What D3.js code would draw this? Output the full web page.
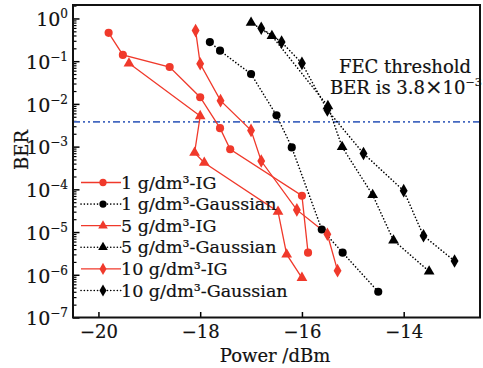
<!DOCTYPE html>
<meta charset="utf-8">
<head>
  <title>BER vs Power</title>
  <script src="https://d3js.org/d3.v7.min.js"></script>
  <style>
    body { margin: 0; background: #fff; }
    text { font-family: "DejaVu Serif", serif; fill: #111; stroke: #111; stroke-width: 0.2px; }
  </style>
</head>
<body>
<div id="my_dataviz"></div>
<script>
// data: power (dBm) and BER per curve
var ig1X = [-19.80, -19.52, -18.60, -18.00, -17.61, -17.41, -16.00, -15.88];
var ig1Y = [0.46, 0.14, 0.073, 0.0143, 0.0027, 8.7e-4, 7.1e-5, 3.3e-6];
var gs1X = [-17.81, -17.61, -17.00, -16.50, -16.20, -15.61, -15.20, -14.50];
var gs1Y = [0.28, 0.176, 0.05, 0.0054, 9.6e-4, 1.15e-5, 3.3e-6, 4.0e-7];
var ig5X = [-19.40, -18.00, -18.11, -17.92, -16.47, -16.30, -16.00];
var ig5Y = [0.089, 0.0052, 7.2e-4, 4.2e-4, 3.0e-5, 3.0e-6, 8.5e-7];
var gs5X = [-17.00, -16.59, -15.49, -15.21, -14.61, -14.20, -13.50];
var gs5Y = [0.8, 0.39, 0.0089, 9.8e-4, 7.4e-5, 6.4e-6, 1.2e-6];
var ig10X = [-18.09, -18.00, -17.60, -17.00, -16.80, -16.10, -15.50, -15.30];
var ig10Y = [0.52, 0.087, 0.0119, 0.0024, 4.6e-4, 3.3e-5, 8.9e-6, 1.25e-6];
var gs10X = [-16.80, -16.40, -16.00, -15.50, -14.79, -14.00, -13.61, -13.00];
var gs10Y = [0.59, 0.28, 0.089, 0.0072, 6.9e-4, 9.3e-5, 8.2e-6, 2.1e-6];

var seriesNames = ["1 g/dm³-IG", "1 g/dm³-Gaussian", "5 g/dm³-IG", "5 g/dm³-Gaussian", "10 g/dm³-IG", "10 g/dm³-Gaussian"];
var xTicks = [-20, -18, -16, -14];
var yExps = [0, -1, -2, -3, -4, -5, -6, -7];
var fecBER = 3.8e-3;

var red = "#f0392b";
var series = [
  {name: seriesNames[0], xs: ig1X, ys: ig1Y, color: red, dotted: false, sym: d3.symbolCircle, size: 52},
  {name: seriesNames[1], xs: gs1X, ys: gs1Y, color: "#000", dotted: true, sym: d3.symbolCircle, size: 52},
  {name: seriesNames[2], xs: ig5X, ys: ig5Y, color: red, dotted: false, sym: d3.symbolTriangle, size: 50},
  {name: seriesNames[3], xs: gs5X, ys: gs5Y, color: "#000", dotted: true, sym: d3.symbolTriangle, size: 50},
  {name: seriesNames[4], xs: ig10X, ys: ig10Y, color: red, dotted: false, sym: d3.symbolDiamond, size: 54},
  {name: seriesNames[5], xs: gs10X, ys: gs10Y, color: "#000", dotted: true, sym: d3.symbolDiamond, size: 54}
];

var W = 483, H = 368;
var L = 73, R = 480, T = 5, B = 317.5;

var svg = d3.select("#my_dataviz").append("svg")
  .attr("width", W).attr("height", H);

var x = d3.scaleLinear().domain([-20.5, -12.5]).range([L, R]);
var y = d3.scaleLog().domain([1e-7, Math.pow(10, 0.315)]).range([B, T]);

// minor log ticks on y
var minor = [];
for (var e = -7; e < 1; e++) {
  for (var k = 2; k <= 9; k++) minor.push(k * Math.pow(10, e));
}
minor = minor.filter(function(v) { return v <= y.domain()[1]; });
svg.append("g")
  .attr("transform", "translate(" + L + ",0)")
  .call(d3.axisLeft(y).tickValues(minor).tickSize(-3.5).tickFormat(""))
  .call(function(g) { g.select(".domain").remove(); g.selectAll("line").attr("stroke-width", 1.2); });

// major y ticks with superscript labels
var yAxis = svg.append("g")
  .attr("transform", "translate(" + L + ",0)")
  .call(d3.axisLeft(y).tickValues(yExps.map(function(e) { return Math.pow(10, e); }))
    .tickSize(-6.5).tickPadding(5).tickFormat(""));
yAxis.select(".domain").remove();
yAxis.selectAll("line").attr("stroke-width", 1.5);
yAxis.selectAll(".tick text")
  .attr("x", -5)
  .attr("dy", "0.38em")
  .attr("font-size", 19)
  .attr("font-family", "DejaVu Serif")
  .each(function(d) {
    var t = d3.select(this);
    var ex = Math.round(Math.log10(d));
    t.append("tspan").text("10");
    t.append("tspan").attr("font-size", 12).attr("dy", -8)
      .text(ex < 0 ? "\u2212" + (-ex) : ex);
  });

// x ticks
var xAxis = svg.append("g")
  .attr("transform", "translate(0," + B + ")")
  .call(d3.axisBottom(x).tickValues(xTicks).tickSize(-5.5).tickPadding(8)
    .tickFormat(function(d) { return "\u2212" + Math.abs(d); }));
xAxis.select(".domain").remove();
xAxis.selectAll("line").attr("stroke-width", 1.5);
xAxis.selectAll("text").attr("font-size", 18).attr("font-family", "DejaVu Serif").attr("fill", "#111");

// FEC threshold line
svg.append("line")
  .attr("x1", L).attr("x2", R)
  .attr("y1", y(fecBER)).attr("y2", y(fecBER))
  .attr("stroke", "#4468c0").attr("stroke-width", 1.6)
  .attr("stroke-dasharray", "7,3,2,3,2,3");

// curves
var line = d3.line().x(function(d) { return x(d[0]); }).y(function(d) { return y(d[1]); });
series.forEach(function(s) {
  var pts = s.xs.map(function(v, i) { return [v, s.ys[i]]; });
  s.pts = pts;
  svg.append("path")
    .attr("d", line(pts))
    .attr("fill", "none")
    .attr("stroke", s.color)
    .attr("stroke-width", s.dotted ? 1.6 : 1.3)
    .attr("stroke-linecap", s.dotted ? "round" : "butt")
    .attr("stroke-dasharray", s.dotted ? "0.1,3.2" : null);
});
series.forEach(function(s) {
  svg.append("g").selectAll("path")
    .data(s.pts).enter().append("path")
    .attr("transform", function(d) { return "translate(" + x(d[0]) + "," + y(d[1]) + ")"; })
    .attr("d", d3.symbol().type(s.sym).size(s.size))
    .attr("fill", s.color);
});

// legend
var leg = svg.append("g");
series.forEach(function(s, i) {
  var ly = 182.5 + i * 21.6;
  leg.append("line")
    .attr("x1", 81).attr("x2", 121).attr("y1", ly).attr("y2", ly)
    .attr("stroke", s.color)
    .attr("stroke-width", s.dotted ? 1.6 : 1.3)
    .attr("stroke-linecap", s.dotted ? "round" : "butt")
    .attr("stroke-dasharray", s.dotted ? "0.1,3.2" : null);
  leg.append("path")
    .attr("transform", "translate(103," + ly + ")")
    .attr("d", d3.symbol().type(s.sym).size(s.size * 0.8))
    .attr("fill", s.color);
  leg.append("text")
    .attr("x", 121).attr("y", ly + 6)
    .attr("font-size", 17.5)
    .text(s.name);
});

// annotation
svg.append("text").attr("x", 405).attr("y", 73).attr("text-anchor", "middle")
  .attr("font-size", 18).text("FEC threshold");
var fec = svg.append("text").attr("x", 330).attr("y", 94).attr("font-size", 18);
fec.append("tspan").text("BER is 3.8");
fec.append("tspan").attr("font-size", 21).text("\u00d7");
fec.append("tspan").text("10");
fec.append("tspan").attr("font-size", 11).attr("dy", -8).text("\u22123");

// frame
svg.append("rect")
  .attr("x", L).attr("y", T).attr("width", R - L).attr("height", B - T)
  .attr("fill", "none").attr("stroke", "#111").attr("stroke-width", 2);

// axis titles
svg.append("text")
  .attr("transform", "translate(28,150) rotate(-90)")
  .attr("text-anchor", "middle").attr("font-size", 18).text("BER");
svg.append("text")
  .attr("x", 275).attr("y", 362).attr("text-anchor", "middle")
  .attr("font-size", 18).text("Power /dBm");
</script>
</body>
